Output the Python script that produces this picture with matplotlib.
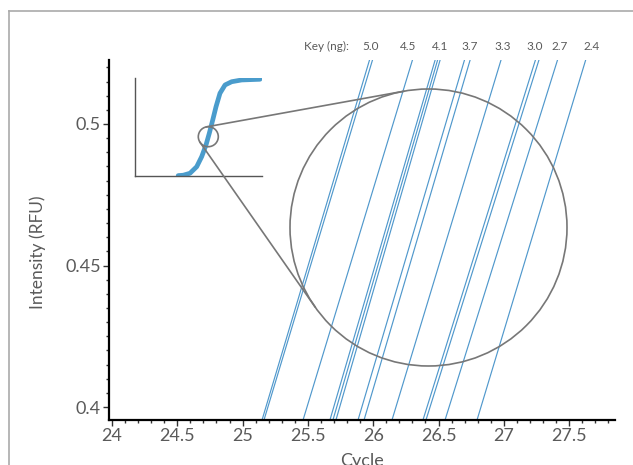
import numpy as np
import matplotlib
matplotlib.use("Agg")
import matplotlib.pyplot as plt
from matplotlib.patches import Circle
from matplotlib.ticker import MultipleLocator, FixedLocator

plt.rcParams['font.family'] = ['Lato', 'DejaVu Sans']

# ---- data ----
key_ng = [5.0, 4.5, 4.1, 3.7, 3.3, 3.0, 2.7, 2.4]
line_ng = [5.0, 5.0, 4.5, 4.1, 4.1, 4.1, 3.7, 3.7, 3.3, 3.0, 3.0, 2.7, 2.4]
y_low, y_high = 0.395, 0.525
cycle_at_low = [25.146, 25.161, 25.460, 25.666, 25.689, 25.712, 25.881,
                25.927, 26.141, 26.378, 26.401, 26.547, 26.792]
cycle_at_high = [25.987, 26.010, 26.316, 26.489, 26.508, 26.527, 26.714,
                 26.757, 26.994, 27.258, 27.285, 27.427, 27.642]
# inset overview curve (normalised)
inset_t = [0.340, 0.380, 0.433, 0.486, 0.525, 0.559, 0.585, 0.612, 0.638,
           0.669, 0.709, 0.761, 0.840, 0.984]
inset_f = [0.004, 0.008, 0.028, 0.095, 0.197, 0.316, 0.436, 0.571, 0.707,
           0.844, 0.929, 0.962, 0.980, 0.987]
x_ticks = [24, 24.5, 25, 25.5, 26, 26.5, 27, 27.5]
x_tick_labels = ["24", "24.5", "25", "25.5", "26", "26.5", "27", "27.5"]
y_ticks = [0.4, 0.45, 0.5]
y_tick_labels = ["0.4", "0.45", "0.5"]

W, H = 633, 465
fig = plt.figure(figsize=(W / 100, H / 100), dpi=100)

def px_rect(x0, y0, x1, y1):
    return [x0 / W, 1 - y1 / H, (x1 - x0) / W, (y1 - y0) / H]

text_col = '#5a5a5a'
line_col = '#5098cc'

ax = fig.add_axes(px_rect(109, 60, 615, 420))
for lo, hi in zip(cycle_at_low, cycle_at_high):
    ax.plot([lo, hi], [y_low, y_high], color=line_col, lw=0.85, solid_capstyle='butt')
ax.set_xlim(23.977, 27.851)
ax.set_ylim(0.39541, 0.52261)
ax.xaxis.set_major_locator(FixedLocator(x_ticks))
ax.set_xticklabels(x_tick_labels)
ax.yaxis.set_major_locator(FixedLocator(y_ticks))
ax.set_yticklabels(y_tick_labels)
ax.xaxis.set_minor_locator(MultipleLocator(0.1))
ax.yaxis.set_minor_locator(MultipleLocator(0.005))
for s in ['top', 'right']:
    ax.spines[s].set_visible(False)
for s in ['left', 'bottom']:
    ax.spines[s].set_linewidth(1.6)
    ax.spines[s].set_color('black')
ax.tick_params(which='major', length=4, width=1, color='#333333',
               labelsize=13, labelcolor=text_col, pad=2)
ax.tick_params(which='minor', length=2, width=1, color='#333333')
ax.set_xlabel("Cycle", fontsize=13, color=text_col, labelpad=6)
ax.set_ylabel("Intensity (RFU)", fontsize=12.5, color=text_col)
ax.yaxis.set_label_coords(-0.125, 0.467)

# inset overview
axi = fig.add_axes(px_rect(135, 78, 262, 176))
axi.plot(inset_t, inset_f, color='#4a9ccc', lw=3.4, solid_capstyle='round')
axi.set_xlim(0, 1)
axi.set_ylim(0, 1)
axi.set_xticks([])
axi.set_yticks([])
for s in ['top', 'right']:
    axi.spines[s].set_visible(False)
for s in ['left', 'bottom']:
    axi.spines[s].set_color('#555555')
    axi.spines[s].set_linewidth(1.0)
axi.patch.set_alpha(0)

# overlay in pixel coordinates for magnifier annotation, key and frame
ov = fig.add_axes([0, 0, 1, 1])
ov.set_xlim(0, W)
ov.set_ylim(H, 0)
ov.axis('off')
ov.patch.set_alpha(0)

c1, r1 = np.array([208.3, 136.7]), 10.0
c2, r2 = np.array([428.5, 227.5]), 138.5
gray = '#777777'
ov.add_patch(Circle(c1, r1, fill=False, ec=gray, lw=1.2))
ov.add_patch(Circle(c2, r2, fill=False, ec=gray, lw=1.2))
d = c2 - c1
D = np.hypot(*d)
base = np.arctan2(d[1], d[0])
th = np.arccos((r2 - r1) / D)
for sgn in (1, -1):
    a = base + sgn * th
    n = np.array([np.cos(a), np.sin(a)])
    p1 = c1 - r1 * n
    p2 = c2 - r2 * n
    ov.plot([p1[0], p2[0]], [p1[1], p2[1]], color=gray, lw=1.2)

# frame
ov.plot([8.5, W], [11.5, 11.5], color='#aaaaaa', lw=1.2)
ov.plot([8.5, 8.5], [11.5, H], color='#aaaaaa', lw=1.2)

# key
key_x = [371, 408, 440, 470, 503, 535, 560, 592]
ov.text(327, 46, "Key (ng):", fontsize=8.5, color=text_col, ha='center', va='center')
for kx, ng in zip(key_x, key_ng):
    ov.text(kx, 46, f"{ng:.1f}", fontsize=8.5, color=text_col, ha='center', va='center')

fig.savefig("out.png", dpi=100)
